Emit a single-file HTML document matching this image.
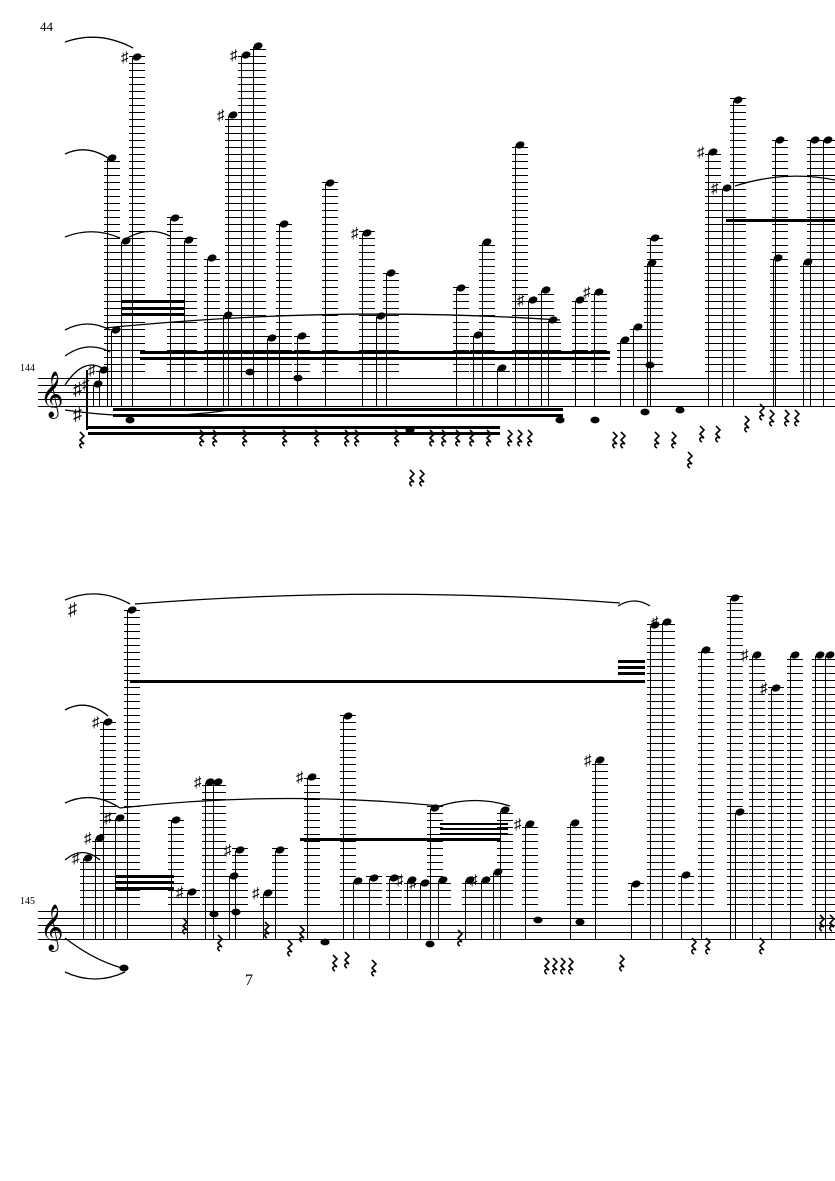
<!DOCTYPE html>
<html><head><meta charset="utf-8"><style>
html,body{margin:0;padding:0;background:#fff;width:835px;height:1181px;overflow:hidden}
svg{display:block}
text{font-family:"Liberation Serif",serif;fill:#000}
</style></head><body>
<svg id="s" width="835" height="1181" viewBox="0 0 835 1181" xmlns="http://www.w3.org/2000/svg">
<text x="40" y="31" font-size="13">44</text>
<text x="20" y="371" font-size="10">144</text>
<text x="20" y="904" font-size="10">145</text>
<g id="g"></g>
</svg>
<script>
var g=document.getElementById('g'),h='';
function L(x1,y1,x2,y2,w,c){h+='<line x1="'+x1+'" y1="'+y1+'" x2="'+x2+'" y2="'+y2+'" stroke="'+(c||'#000')+'" stroke-width="'+(w||1)+'"/>';}
function R(x,y,w,hh){h+='<rect x="'+x+'" y="'+y+'" width="'+w+'" height="'+hh+'" fill="#000"/>';}
function staff(top){for(var i=0;i<5;i++)L(38,top+i*7,835,top+i*7,1);
 h+='<text x="40" y="'+(top+29)+'" font-size="40">&#x1D11E;</text>';}
function note(x,y,top,sharp){
 for(var ly=top-7;ly>=y-2;ly-=7)L(x-8,ly,x+8,ly,1);
 h+='<ellipse cx="'+x+'" cy="'+y+'" rx="4.6" ry="3.4" transform="rotate(-20 '+x+' '+y+')" fill="#000"/>';
 L(x-4.5,y+1,x-4.5,top+28,1);
 if(sharp)h+='<text x="'+(x-16)+'" y="'+(y+5)+'" font-size="15">&#9839;</text>';}
function rest(x,y){h+='<path d="M'+x+' '+y+' l4 4 l-4 4 l4 4 c-4 -2 -6 2 -2 4" fill="none" stroke="#000" stroke-width="1.6"/>';}
function slur(x1,y1,x2,y2,c){h+='<path d="M'+x1+' '+y1+' Q'+((x1+x2)/2)+' '+c+' '+x2+' '+y2+'" fill="none" stroke="#000" stroke-width="1.3"/>';}
var t1=378.5,t2=911.5;
staff(t1);staff(t2);
var n1=[[98,384,1],[104,370,1],[112,158],[116,330],[126,241],[137,57,1],[175,218],[189,240],[212,258],[228,315],[233,115,1],[246,55,1],[258,46],[272,338],[284,224],[302,336],[330,183],[367,233,1],[381,316],[391,273],[461,288],[478,335],[487,242],[502,368],[520,145],[533,300,1],[546,290],[553,320],[580,300],[599,292,1],[625,340],[638,327],[652,263],[655,238],[713,152,1],[727,188,1],[738,100],[778,258],[780,140],[808,262],[815,140],[828,140]];
n1.forEach(function(n){note(n[0],n[1],t1,n[2]);});
var n2=[[88,858,1],[100,838,1],[108,722,1],[120,818,1],[132,610],[176,820],[210,782,1],[218,782],[240,850,1],[280,850],[192,892,1],[234,876],[268,893,1],[312,777,1],[348,716],[358,881],[374,878],[394,878],[412,880,1],[425,883,1],[435,808],[443,880],[470,880],[486,880,1],[498,872],[505,810],[530,824,1],[575,823],[600,760,1],[636,884],[655,625],[667,622,1],[686,875],[706,650],[735,598],[740,812],[757,655,1],[776,688,1],[795,655],[820,655],[830,655]];
n2.forEach(function(n){note(n[0],n[1],t2,n[2]);});
[[130,420],[250,372],[298,378],[410,430],[560,420],[595,420],[650,365],[680,410],[645,412]].forEach(function(n){h+='<ellipse cx="'+n[0]+'" cy="'+n[1]+'" rx="4.6" ry="3.4" fill="#000"/>';});
[[124,968],[214,914],[236,912],[325,942],[430,944],[538,920],[580,922]].forEach(function(n){h+='<ellipse cx="'+n[0]+'" cy="'+n[1]+'" rx="4.6" ry="3.4" fill="#000"/>';});
R(140,351,470,3);R(140,357,470,3);R(113,408,450,3);R(113,414,450,3);
R(88,426,412,3);R(88,432,412,3);R(122,300,63,3);R(122,307,63,3);R(122,313,63,3);
R(726,219,109,3);R(86,370,2,60);
R(130,680,515,3);R(116,875,58,3);R(116,881,58,3);R(116,887,58,3);
R(440,823,68,2);R(440,828,68,2);R(440,833,68,2);R(300,838,200,3);R(618,660,27,3);R(618,666,27,3);R(618,672,27,3);
slur(65,42,133,48,30);slur(65,154,108,158,144);slur(65,237,120,238,226);slur(124,240,170,236,225);
slur(65,330,110,330,318);slur(105,328,560,320,305);slur(65,410,230,410,422);slur(65,385,105,370,355);
slur(735,186,835,180,170);slur(65,356,110,352,340);
slur(65,600,130,604,586);slur(135,604,620,603,585);slur(618,606,650,606,596);
slur(65,710,108,716,698);slur(65,803,120,808,790);slur(120,808,440,806,790);slur(440,806,510,806,795);
slur(65,938,122,968,960);slur(65,860,100,860,845);slur(65,972,125,972,986);
[[200,430],[213,430],[243,430],[283,430],[315,430],[345,430],[355,430],[395,430],[430,430],[442,430],[456,430],[470,430],[487,430],[508,430],[518,430],[528,430],[410,470],[420,470],[613,432],[621,432],[655,432],[672,432],[688,452],[700,426],[716,426],[745,416],[760,404],[770,410],[785,410],[795,410],[80,432]].forEach(function(r){rest(r[0],r[1]);});
[[183,918],[218,935],[265,922],[288,940],[300,926],[333,955],[345,952],[372,960],[458,930],[545,958],[553,958],[561,958],[569,958],[620,955],[692,938],[706,938],[760,938],[820,915],[830,915]].forEach(function(r){rest(r[0],r[1]);});
h+='<text x="68" y="615" font-size="18">&#9839;</text><text x="73" y="420" font-size="18">&#9839;</text><text x="73" y="395" font-size="18">&#9839;</text><text x="245" y="985" font-size="16">7</text>';
g.innerHTML=h;
</script>
</body></html>
